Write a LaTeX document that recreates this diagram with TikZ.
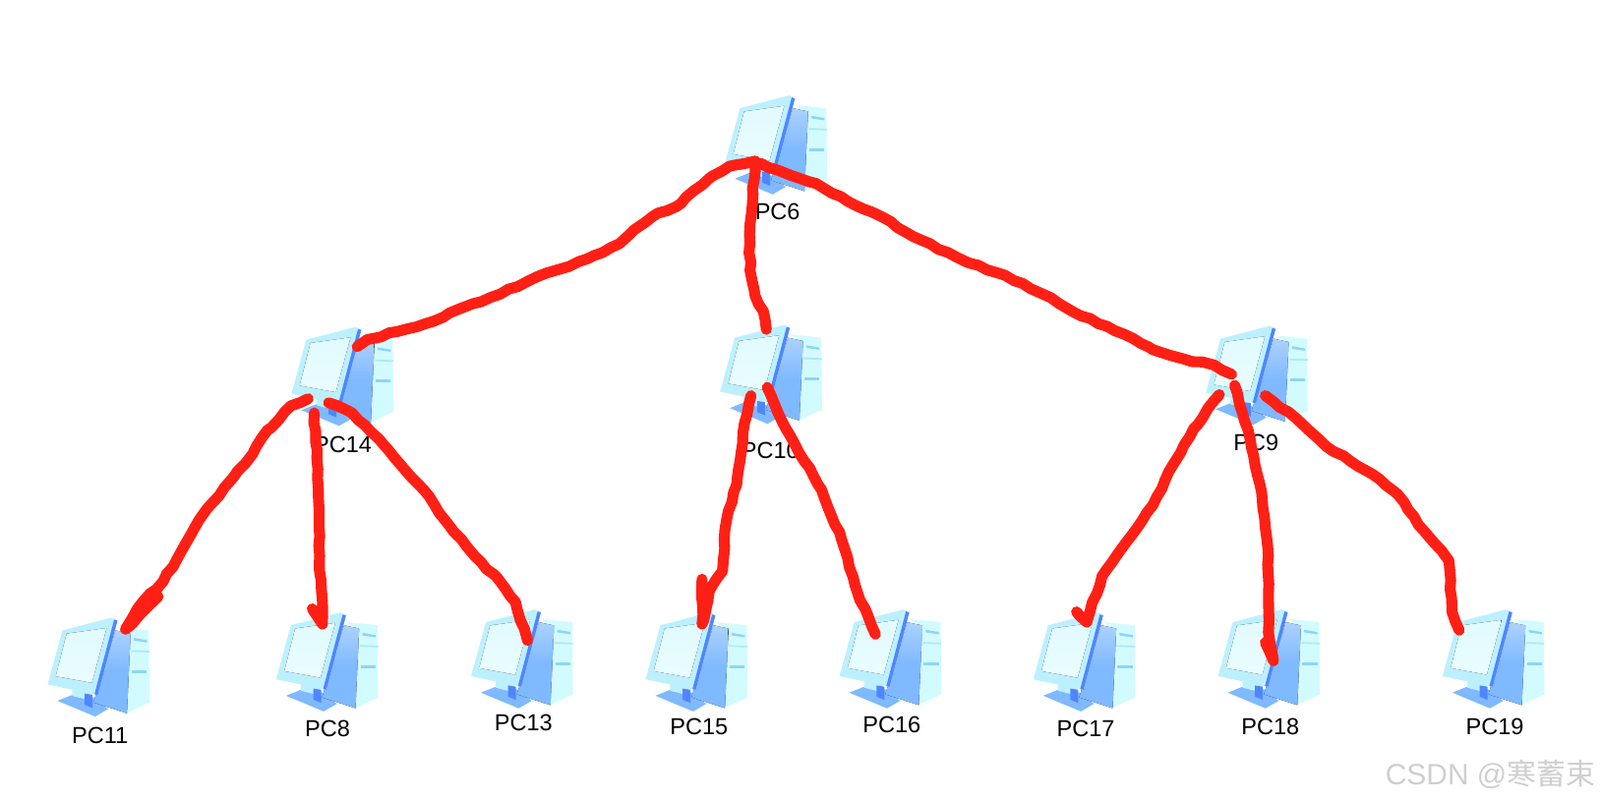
\documentclass[tikz,border=0pt]{standalone}
\usepackage{fontspec}
\setmainfont{Liberation Sans}
\newfontfamily\cjk{Noto Sans CJK SC}
\usetikzlibrary{decorations.pathmorphing}
\definecolor{rimcyan}{HTML}{BDF0FF}
\definecolor{screenpale}{HTML}{EAFDFF}
\definecolor{casecyan}{HTML}{D2FBFF}
\definecolor{caseblue}{HTML}{7FB9FF}
\definecolor{edgeblue}{HTML}{4F86FF}
\definecolor{slotblue}{HTML}{8FD4F5}
\definecolor{penred}{HTML}{FF2015}
\definecolor{markgrey}{HTML}{CFCFCF}
\tikzset{
  pcicon/.pic={
    \fill[caseblue] (85,340) -- (130,322) -- (195,330) -- (240,365) -- (200,388) -- cycle;
    \fill[rimcyan] (130,300) -- (190,318) -- (190,340) -- (130,325) -- cycle;
    \fill[edgeblue] (168,318) -- (192,322) -- (192,362) -- (168,352) -- cycle;
    \fill[casecyan] (268,115) -- (364,125) -- (366,345) -- (295,378) -- (300,135) -- cycle;
    \fill[top color=caseblue!65!white, bottom color=caseblue, middle color=caseblue] (262,125) -- (308,135) -- (297,378) -- (195,345) -- cycle;
    \fill[rimcyan] (100,125) -- (250,86) -- (268,95) -- (208,322) -- (55,290) -- cycle;
    \fill[edgeblue] (258,92) -- (268,95) -- (208,322) -- (198,320) -- cycle;
    \fill[bottom color=screenpale, top color=screenpale!80!rimcyan] (113,135) -- (235,118) -- (190,285) -- (80,265) -- cycle;
    \fill[slotblue] (318,148) -- (358,155) -- (358,162) -- (318,156) -- cycle;
    \fill[slotblue] (312,247) -- (358,247) -- (358,256) -- (312,256) -- cycle;
    \draw[slotblue!50!casecyan, line width=0.5pt] (310,188) -- (366,190);
  },
  pclabel/.style={font=\fontsize{6.45}{8}\selectfont, text=black, inner sep=0pt},
  penstroke/.style={penred, line width=3.05pt, line cap=round, line join=round,
    decorate, decoration={random steps, segment length=2.6pt, amplitude=0.28pt}},
}
\begin{document}
\begin{tikzpicture}[x=0.01cm, y=-0.01cm]
  \useasboundingbox (0,0) rectangle (1568,785.4);
  \foreach \n/\ix/\iy/\lx/\ly in {
    6/693/66/762/208, 14/268/293/336/436, 10/688/291/755/442, 9/1164/292/1231/434,
    11/29/578/98/721, 8/253/573/321/715, 13/444/570/513/709, 15/615/573/685/713,
    16/805/570/874/711, 17/995/573/1064/715, 18/1176/570/1245/713, 19/1396/570/1465/713} {
    \pic[scale=0.3212] (icon\n) at (\ix,\iy) {pcicon};
    \node[pclabel] (pc\n) at (\lx,\ly) {PC\n};
  }
  \node[anchor=east, inner sep=0pt, text=markgrey, font=\fontsize{8.2}{10}\selectfont] (mark) at (1564,759) {CSDN @{\cjk 寒蓄束}};

  \coordinate (root) at (740,158);
  \coordinate (left) at (350,340);
  \coordinate (mid) at (751,323);
  \coordinate (right) at (1207,367);
  \draw[penstroke] (root) -- (715,163) -- (695,175) -- (680,187) -- (662,203) -- (640,212) -- (622,225) -- (607,239)
    -- (575,254) -- (545,265) -- (515,277) -- (480,292) -- (450,303) -- (425,315) -- (390,325) -- (360,333) -- (left);
  \draw[penstroke] (root) -- (738,190) -- (735,220) -- (735,265) -- (740,290) -- (748,305) -- (mid);
  \draw[penstroke] (745,160) -- (775,172) -- (800,180) -- (830,197) -- (865,213) -- (895,232) -- (950,258) -- (985,270)
    -- (1030,292) -- (1060,310) -- (1085,320) -- (1130,343) -- (1160,352) -- (1190,358) -- (right);

  \coordinate (end11) at (123,617);
  \coordinate (end8) at (316,612);
  \coordinate (end13) at (517,628);
  \draw[penstroke] (302,391) -- (285,398) -- (262,422) -- (240,455) -- (220,478) -- (195,510) -- (178,540) -- (160,570)
    -- (140,590) -- (end11) -- (155,585);
  \draw[penstroke] (308,405) -- (312,480) -- (313,550) -- (316,590) -- (end8) -- (306,597);
  \draw[penstroke] (322,395) -- (345,405) -- (375,435) -- (415,480) -- (440,515) -- (465,545) -- (490,570) -- (505,590) -- (end13);

  \coordinate (end15) at (688,612);
  \coordinate (end16) at (858,622);
  \draw[penstroke] (736,388) -- (728,425) -- (722,475) -- (712,510) -- (708,560) -- (695,580) -- (end15) -- (688,568);
  \draw[penstroke] (752,380) -- (770,420) -- (805,480) -- (825,530) -- (840,580) -- (end16);

  \coordinate (end17) at (1065,610);
  \coordinate (end18) at (1248,648);
  \coordinate (end19) at (1430,618);
  \draw[penstroke] (1195,387) -- (1170,420) -- (1150,455) -- (1130,495) -- (1105,530) -- (1080,565) -- (end17) -- (1055,600);
  \draw[penstroke] (1210,378) -- (1225,430) -- (1237,490) -- (1243,545) -- (1243,620) -- (end18) -- (1240,630);
  \draw[penstroke] (1240,388) -- (1270,410) -- (1300,438) -- (1345,465) -- (1370,485) -- (1395,520) -- (1420,550) -- (1423,600) -- (end19);
\end{tikzpicture}
\end{document}
